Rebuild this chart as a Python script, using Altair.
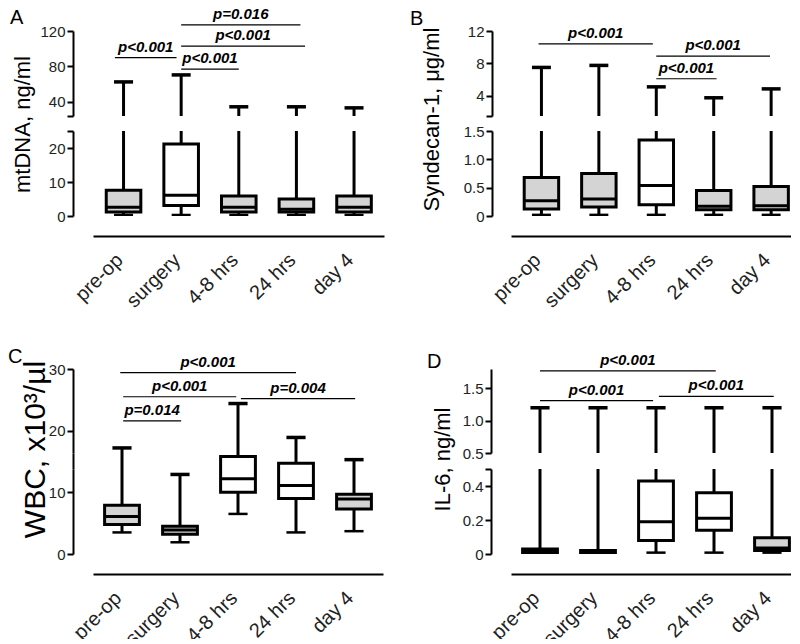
import altair as alt
import pandas as pd

cats = ["pre-op", "surgery", "4-8 hrs", "24 hrs", "day 4"]

# ---- Panel A: mtDNA, ng/ml (broken axis 0-25 / 24-120)
a_min = [0.3, 0.3, 0.3, 0.3, 0.3]
a_q1 = [1.2, 3.1, 1.2, 1.2, 1.2]
a_med = [2.6, 6.1, 2.6, 2.0, 2.6]
a_q3 = [7.6, 21.2, 5.9, 5.0, 5.9]
a_max = [62.5, 70.4, 34.4, 34.4, 33.2]
a_open = [False, True, False, False, False]
a_br_from = [-0.15, 1.0, 1.0, 1.0]
a_br_to = [0.92, 2.0, 3.15, 3.07]
a_br_y = [90, 77, 103, 127]
a_br_lab = ["p<0.001", "p<0.001", "p<0.001", "p=0.016"]

# ---- Panel B: Syndecan-1, ug/ml (broken axis 0-1.5 / 1.5-12)
b_min = [0.02, 0.02, 0.02, 0.02, 0.02]
b_q1 = [0.125, 0.16, 0.2, 0.11, 0.11]
b_med = [0.27, 0.30, 0.54, 0.17, 0.18]
b_q3 = [0.68, 0.75, 1.34, 0.45, 0.52]
b_max = [7.5, 7.75, 5.1, 3.75, 4.85]
b_open = [False, False, True, False, False]
b_br_from = [-0.05, 2.0, 2.0]
b_br_to = [1.94, 3.98, 3.05]
b_br_y = [10.4, 8.9, 6.1]
b_br_lab = ["p<0.001", "p<0.001", "p<0.001"]

# ---- Panel C: WBC, x10^3/ul
c_min = [3.5, 1.9, 6.5, 3.5, 3.7]
c_q1 = [4.8, 3.2, 10.0, 9.0, 7.3]
c_med = [6.1, 3.9, 12.2, 11.1, 8.9]
c_q3 = [7.9, 4.5, 15.8, 14.7, 9.7]
c_max = [17.2, 12.9, 24.4, 18.9, 15.3]
c_open = [False, False, True, True, False]
c_br_from = [0.02, 0.02, 2.05, -0.03]
c_br_to = [1.02, 1.97, 4.02, 3.0]
c_br_y = [21.6, 25.5, 25.2, 29.4]
c_br_lab = ["p=0.014", "p<0.001", "p=0.004", "p<0.001"]

# ---- Panel D: IL-6, ng/ml (broken axis 0-0.5 / 0.5-1.8)
d_min = [0.005, 0.005, 0.008, 0.008, 0.008]
d_q1 = [0.008, 0.008, 0.08, 0.14, 0.02]
d_med = [0.02, 0.015, 0.19, 0.21, 0.035]
d_q3 = [0.03, 0.02, 0.43, 0.36, 0.095]
d_max = [1.2, 1.2, 1.2, 1.2, 1.2]
d_open = [False, False, True, True, False]
d_br_from = [0.0, 0.0, 2.05]
d_br_to = [3.03, 1.95, 4.03]
d_br_y = [1.77, 1.31, 1.375]
d_br_lab = ["p<0.001", "p<0.001", "p<0.001"]

FONT = "Liberation Sans"
GRAY = "#d4d4d4"
HALF_BOX = 0.3
HALF_CAP = 0.165

# layout sizes (px)
W_LEFT, W_RIGHT = 291, 290
H_UP, H_GAP, H_LO = 85, 15, 85
H_UP2, H_GAP2, H_LO2 = 84, 16, 85
H_BETWEEN = 153


def box_df(mins, q1, med, q3, maxs, open_flags):
    return pd.DataFrame({
        "cat": cats, "pos": list(range(len(cats))),
        "lo": mins, "q1": q1, "med": med, "q3": q3, "hi": maxs,
        "kind": ["open" if o else "filled" for o in open_flags],
    })


def br_df(frm, to, yv, labels):
    return pd.DataFrame({"x1": frm, "x2": to, "y": yv, "label": labels})


X_LABEL_EXPR = "[" + ",".join("'" + c + "'" for c in cats) + "][datum.value]"


def x_axis():
    return alt.Axis(values=list(range(len(cats))), labelExpr=X_LABEL_EXPR, title=None,
                    offset=20, ticks=False, grid=False, domainColor="black", domainWidth=2,
                    labelAngle=-45, labelAlign="right", labelBaseline="alphabetic", labelPadding=25,
                    labelOffset=0, labelFontSize=20, labelFont=FONT, labelColor="#222",
                    labelOverlap=False, labelBound=False, labelFlush=False)


def y_axis(values, label_expr, title=None, title_x=0, title_y=0, title_size=22, offset=20):
    kw = dict(values=values, labelExpr=label_expr, offset=offset, grid=False,
              domainColor="black", domainWidth=2, tickColor="black", tickWidth=2,
              tickSize=6, labelFontSize=15, labelColor="#222", labelFont=FONT, labelPadding=2,
              labelOverlap=False)
    if title:
        kw.update(title=title, titleFont=FONT, titleFontSize=title_size, titleFontWeight="normal",
                  titleColor="black", titleX=title_x, titleY=title_y,
                  titleBaseline="alphabetic", titleAngle=270, titleAlign="center")
    else:
        kw["title"] = None
    return alt.Axis(**kw)


def segment(box, br, xdom, ydom, width, height, yax, xax=None, letter=None, boxes=True):
    xs = alt.Scale(domain=xdom, nice=False, zero=False)
    ys = alt.Scale(domain=ydom, nice=False, zero=False)

    def X(f):
        return alt.X(f, type="quantitative", scale=xs, axis=xax)

    def Y(f):
        return alt.Y(f, type="quantitative", scale=ys, axis=yax)

    base = alt.Chart(box).transform_calculate(
        bl=f"datum.pos - {HALF_BOX}", bh=f"datum.pos + {HALF_BOX}",
        cl=f"datum.pos - {HALF_CAP}", ch=f"datum.pos + {HALF_CAP}")
    layers = [
        base.mark_rule(color="black", strokeWidth=3, clip=True).encode(x=X("pos"), y=Y("q3"), y2="hi:Q"),
        base.mark_rule(color="black", strokeWidth=3.5, clip=True).encode(x=X("cl"), x2="ch:Q", y=Y("hi")),
    ]
    if boxes:
        layers += [
            base.mark_rule(color="black", strokeWidth=3, clip=True).encode(x=X("pos"), y=Y("lo"), y2="q1:Q"),
            base.mark_rule(color="black", strokeWidth=2.5, clip=True).encode(x=X("cl"), x2="ch:Q", y=Y("lo")),
            base.mark_rect(stroke="black", strokeWidth=3, clip=True).encode(
                x=X("bl"), x2="bh:Q", y=Y("q1"), y2="q3:Q",
                fill=alt.Fill("kind:N", scale=alt.Scale(domain=["filled", "open"], range=[GRAY, "white"]),
                              legend=None)),
            base.mark_rule(color="black", strokeWidth=3, clip=True).encode(x=X("bl"), x2="bh:Q", y=Y("med")),
        ]
    if br is not None:
        bc = alt.Chart(br).transform_calculate(xm="(datum.x1 + datum.x2) / 2")
        layers += [
            bc.mark_rule(color="black", strokeWidth=1.2).encode(x=X("x1"), x2="x2:Q", y=Y("y")),
            bc.mark_text(font=FONT, fontSize=15, fontWeight="bold", fontStyle="italic",
                         baseline="alphabetic", align="center", dy=-6, color="black").encode(
                x=X("xm"), y=Y("y"), text="label:N"),
        ]
    ch = alt.layer(*layers).properties(width=width, height=height)
    if letter is not None:
        txt, dx, dy = letter
        ch = ch.properties(title=alt.TitleParams(txt, anchor="start", frame="group", fontSize=20,
                                                 font=FONT, fontWeight="normal", color="black",
                                                 dx=dx, dy=dy, offset=0))
    return ch


def spacer(w, h):
    return alt.Chart(pd.DataFrame({"v": [0]})).mark_point(opacity=0, size=0).encode(
        x=alt.X("v:Q", axis=None), y=alt.Y("v:Q", axis=None)).properties(width=w, height=h)


XDOM_AB = [-0.53, 4.52]
XDOM_CD = [-0.5, 4.5]

boxA = box_df(a_min, a_q1, a_med, a_q3, a_max, a_open)
boxB = box_df(b_min, b_q1, b_med, b_q3, b_max, b_open)
boxC = box_df(c_min, c_q1, c_med, c_q3, c_max, c_open)
boxD = box_df(d_min, d_q1, d_med, d_q3, d_max, d_open)

int_lbl = "format(datum.value, 'd')"
dec_lbl = "datum.value == 0 ? '0' : format(datum.value, '.1f')"

A_up = segment(boxA, br_df(a_br_from, a_br_to, a_br_y, a_br_lab), XDOM_AB, [24, 120], W_LEFT, H_UP,
               y_axis([24, 40, 80, 120], "datum.value == 24 ? '' : " + int_lbl,
                      title="mtDNA, ng/ml", title_x=-44, title_y=93),
               letter=("A", -83, 21), boxes=False)
A_lo = segment(boxA, None, XDOM_AB, [0, 25], W_LEFT, H_LO,
               y_axis([0, 10, 20, 25], "datum.value == 25 ? '' : " + int_lbl), xax=x_axis())
B_up = segment(boxB, br_df(b_br_from, b_br_to, b_br_y, b_br_lab), XDOM_AB, [1.5, 12], W_RIGHT, H_UP,
               y_axis([1.5, 4, 8, 12], "datum.value == 1.5 ? '' : " + int_lbl,
                      title="Syndecan-1, \u03bcg/ml", title_x=-54, title_y=88, offset=19),
               letter=("B", -101, 5), boxes=False)
B_lo = segment(boxB, None, XDOM_AB, [0, 1.5], W_RIGHT, H_LO,
               y_axis([0, 0.5, 1.0, 1.5], dec_lbl, offset=19), xax=x_axis())

# Panel C is continuous: split into three touching pieces aligned with panel D's rows
c_top = 30.0
c_unit = (H_UP2 + H_GAP2 + H_LO2) / c_top
c_b1 = H_LO2 / c_unit
c_b2 = (H_LO2 + H_GAP2) / c_unit
C_up = segment(boxC, br_df(c_br_from, c_br_to, c_br_y, c_br_lab), XDOM_CD, [c_b2, c_top], W_RIGHT, H_UP2,
               y_axis([20, 30], int_lbl, title="WBC,  x10\u00b3/\u00b5l", title_x=-29,
                      title_y=80, title_size=30),
               letter=("C", -85, 12))
C_mid = segment(boxC, None, XDOM_CD, [c_b1, c_b2], W_RIGHT, H_GAP2, y_axis([], int_lbl))
C_lo = segment(boxC, None, XDOM_CD, [0, c_b1], W_RIGHT, H_LO2, y_axis([0, 10], int_lbl), xax=x_axis())

D_up = segment(boxD, br_df(d_br_from, d_br_to, d_br_y, d_br_lab), XDOM_CD, [0.5, 1.8], W_RIGHT, H_UP2,
               y_axis([0.5, 1.0, 1.5], dec_lbl, title="IL-6, ng/ml", title_x=-42, title_y=90),
               letter=("D", -84, 19), boxes=False)
D_lo = segment(boxD, None, XDOM_CD, [0, 0.5], W_RIGHT, H_LO2,
               y_axis([0, 0.2, 0.4, 0.5], "datum.value == 0.5 ? '' : (" + dec_lbl + ")"),
               xax=x_axis())

cells = [
    A_up, B_up,
    spacer(W_LEFT, H_GAP), spacer(W_RIGHT, H_GAP),
    A_lo, B_lo,
    spacer(W_LEFT, H_BETWEEN), spacer(W_RIGHT, H_BETWEEN),
    C_up, D_up,
    C_mid, spacer(W_RIGHT, H_GAP2),
    C_lo, D_lo,
]

chart = alt.concat(*cells, columns=2, spacing={"row": 0, "column": 127}, bounds="flush").properties(
    padding={"left": 0, "top": -2, "right": -10, "bottom": -10}
).configure(font=FONT).configure_view(stroke=None)

chart.save("out.html", embed_options={"renderer": "svg", "actions": False})
